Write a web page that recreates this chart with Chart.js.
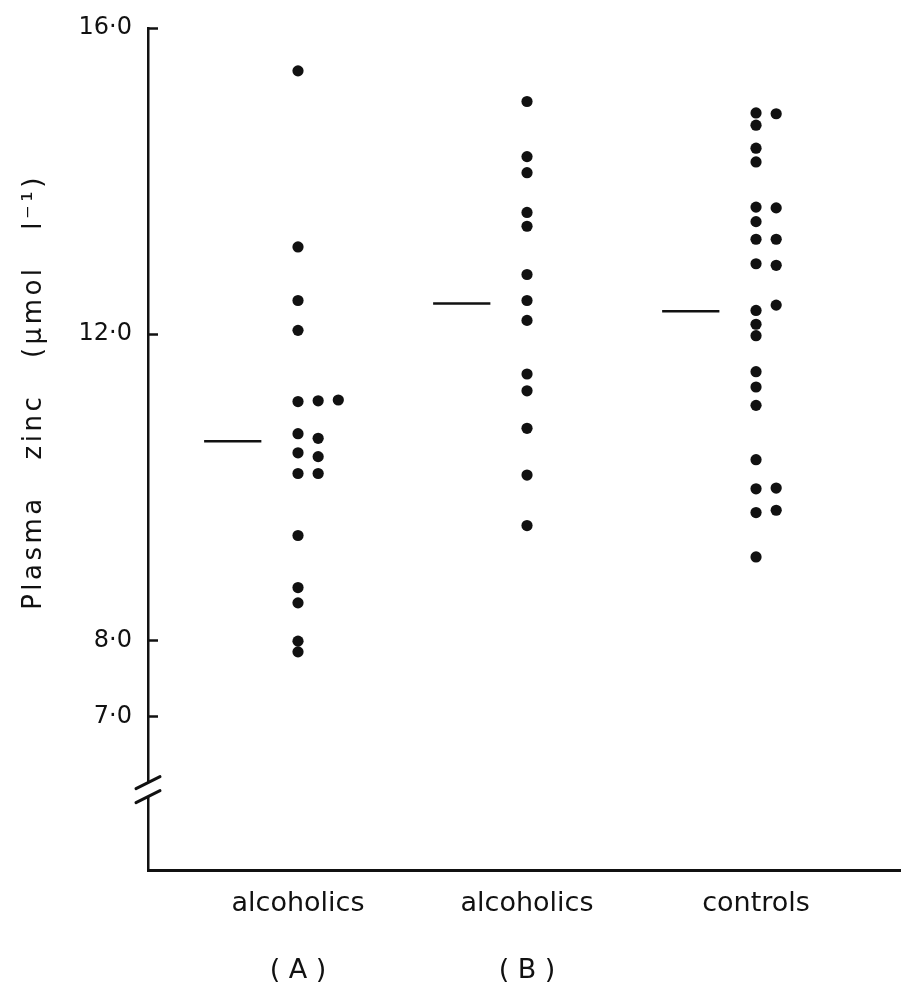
<!DOCTYPE html>
<html>
<head>
<meta charset="utf-8">
<script src="https://cdn.jsdelivr.net/npm/chart.js@4/dist/chart.umd.min.js"></script>
<style>
  html, body { margin: 0; padding: 0; background: #fff; }
  #wrap { width: 901px; height: 996px; }
</style>
</head>
<body>
<div id="wrap"><canvas id="zincChart" width="901" height="996"></canvas></div>
<script>
// plasma zinc, umol/l
const groupNames = ['alcoholics', 'alcoholics', 'controls'];
const groupTags = ['( A )', '( B )', ''];

const zincA = [15.44, 13.14, 12.44, 12.05, 11.12, 11.13, 11.14, 10.70, 10.64, 10.45, 10.40, 10.18, 10.18, 9.37, 8.69, 8.49, 7.99, 7.85];
const colsA = [0, 0, 0, 0, 0, 1, 2, 0, 1, 0, 1, 0, 1, 0, 0, 0, 0, 0];

const zincB = [15.04, 14.32, 14.11, 13.59, 13.41, 12.78, 12.44, 12.18, 11.48, 11.26, 10.77, 10.16, 9.50];
const colsB = [0, 0, 0, 0, 0, 0, 0, 0, 0, 0, 0, 0, 0];

const zincC = [14.89, 14.88, 14.73, 14.43, 14.25, 13.66, 13.65, 13.47, 13.24, 13.24, 12.92, 12.90, 12.38, 12.31, 12.13, 11.98, 11.51, 11.31, 11.07, 10.36, 9.98, 9.99, 9.67, 9.70, 9.09];
const colsC = [0, 1, 0, 0, 0, 0, 1, 0, 0, 1, 0, 1, 1, 0, 0, 0, 0, 0, 0, 0, 0, 1, 0, 1, 0];

const means = [10.6, 12.4, 12.3];

const yTicks = [16, 12, 8, 7];
const yTickLabels = ['16·0', '12·0', '8·0', '7·0'];

const INK = '#111';
const FONT = '"DejaVu Sans", sans-serif';
const COL_STEP = 0.088;   // side-by-side dots with the same value
const BREAK_AT = 6.05;    // where the y axis is broken

function dots(values, cols, g) {
    return values.map((v, i) => ({ x: g + cols[i] * COL_STEP, y: v }));
}

function meanLine(g) {
    return [{ x: g + 1 - 0.41, y: means[g] }, { x: g + 1 - 0.16, y: means[g] }];
}

const dotStyle = {
    type: 'scatter',
    pointRadius: 5.6,
    pointBorderWidth: 0,
    pointBackgroundColor: INK,
    pointHoverRadius: 5.6
};

const lineStyle = {
    type: 'line',
    borderColor: INK,
    borderWidth: 2.5,
    pointRadius: 0,
    pointHoverRadius: 0,
    fill: false
};

// y title drawn by hand so it can sit above the axis centre, and the "//" break
const extras = {
    id: 'extras',
    afterDraw(chart) {
        const ctx = chart.ctx;
        const ys = chart.scales.y;
        const ax = ys.right;

        // axis break
        const yb = ys.getPixelForValue(BREAK_AT);
        ctx.save();
        ctx.fillStyle = '#fff';
        ctx.fillRect(ax - 3, yb - 7, 6, 14);
        ctx.strokeStyle = INK;
        ctx.lineWidth = 3;
        ctx.lineCap = 'round';
        ctx.beginPath();
        ctx.moveTo(ax - 12, yb - 1);
        ctx.lineTo(ax + 12, yb - 13);
        ctx.moveTo(ax - 12, yb + 13);
        ctx.lineTo(ax + 12, yb + 1);
        ctx.stroke();
        ctx.restore();

        // y title
        ctx.save();
        ctx.translate(41, 392);
        ctx.rotate(-Math.PI / 2);
        ctx.font = '26px ' + FONT;
        ctx.fillStyle = INK;
        ctx.textAlign = 'center';
        ctx.textBaseline = 'alphabetic';
        ctx.letterSpacing = '3.5px';
        ctx.wordSpacing = '24px';
        ctx.fillText('Plasma zinc (µmol l⁻¹)', 0, 0);
        ctx.restore();
    }
};

function renderChart() {
    const canvas = document.getElementById('zincChart');
    new Chart(canvas.getContext('2d'), {
        data: {
            datasets: [
                { ...dotStyle, data: dots(zincA, colsA, 1) },
                { ...dotStyle, data: dots(zincB, colsB, 2) },
                { ...dotStyle, data: dots(zincC, colsC, 3) },
                { ...lineStyle, data: meanLine(0) },
                { ...lineStyle, data: meanLine(1) },
                { ...lineStyle, data: meanLine(2) }
            ]
        },
        options: {
            responsive: false,
            animation: false,
            devicePixelRatio: 1,
            layout: { autoPadding: false, padding: { top: 28, right: 0, bottom: 0, left: 0 } },
            plugins: { legend: { display: false }, tooltip: { enabled: false } },
            scales: {
                x: {
                    type: 'linear',
                    min: 0.345,
                    max: 3.633,
                    afterBuildTicks: (s) => { s.ticks = [1, 2, 3].map(v => ({ value: v })); },
                    afterFit: (s) => { s.height = 126; s.paddingLeft = 0; s.paddingRight = 0; },
                    grid: { display: false, drawTicks: false },
                    border: { display: true, color: INK, width: 3 },
                    ticks: {
                        padding: 0,
                        maxRotation: 0,
                        autoSkip: false,
                        color: INK,
                        font: { family: FONT, size: 27, lineHeight: 2.5 },
                        callback: (v) => {
                            const i = Math.round(v) - 1;
                            return groupTags[i] ? [groupNames[i], groupTags[i]] : groupNames[i];
                        }
                    }
                },
                y: {
                    type: 'linear',
                    min: 5,
                    max: 16,
                    afterBuildTicks: (s) => { s.ticks = yTicks.map(v => ({ value: v })); },
                    afterFit: (s) => { s.width = 148; s.paddingTop = 0; s.paddingBottom = 0; },
                    grid: {
                        display: true,
                        drawOnChartArea: false,
                        drawTicks: true,
                        tickLength: -10,
                        tickWidth: 2.5,
                        color: INK
                    },
                    border: { display: true, color: INK, width: 2.5 },
                    ticks: {
                        padding: 26,
                        autoSkip: false,
                        color: INK,
                        font: { family: FONT, size: 24 },
                        callback: (v) => yTickLabels[yTicks.indexOf(v)]
                    }
                }
            }
        },
        plugins: [extras]
    });
}

window.onload = () => {
    renderChart();
};
</script>
</body>
</html>
